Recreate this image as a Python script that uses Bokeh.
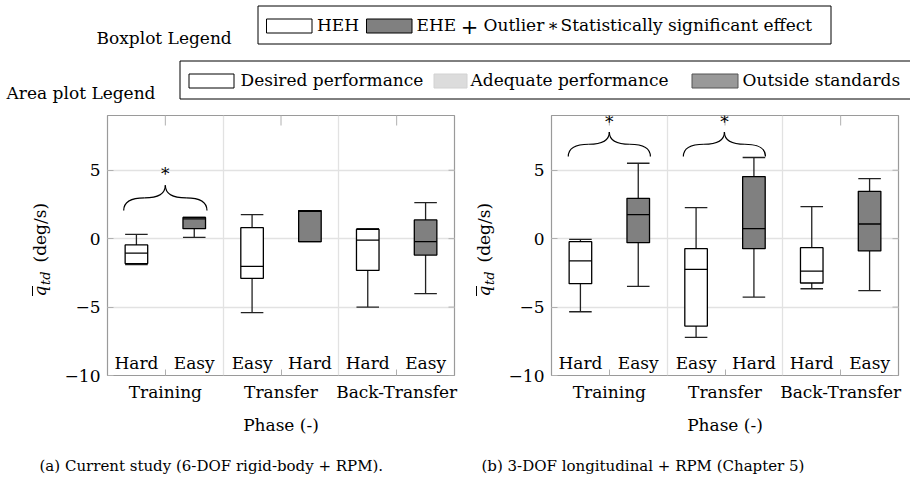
import math
from bokeh.plotting import figure
from bokeh.models import Range1d, FixedTicker
from bokeh.layouts import column, row
from bokeh.embed import file_html
from bokeh.resources import INLINE
from bokeh.core.properties import value

# ---------------- data ----------------
phases = ["Training", "Transfer", "Back-Transfer"]
conditions = ["Hard", "Easy", "Easy", "Hard", "Hard", "Easy"]
positions = [1, 2, 3, 4, 5, 6]
groups = ["HEH", "EHE", "HEH", "EHE", "HEH", "EHE"]
y_ticks = [-10, -5, 0, 5]
y_tick_labels = ["\u221210", "\u22125", "0", "5"]

# (a) Current study (6-DOF rigid-body + RPM)
a_lower = [-1.90, 0.10, -5.41, -0.22, -5.00, -4.02]
a_q1 = [-1.82, 0.73, -2.90, -0.22, -2.32, -1.20]
a_median = [-1.05, 1.45, -2.02, 2.00, -0.10, -0.22]
a_q3 = [-0.46, 1.55, 0.80, 2.05, 0.68, 1.37]
a_upper = [0.32, 1.55, 1.76, 2.05, 0.74, 2.63]
a_sig_left = [0.78]
a_sig_right = [2.22]
a_sig_base = [2.05]
a_sig_peak = [3.90]
a_sig_star = [4.73]

# (b) 3-DOF longitudinal + RPM (Chapter 5)
b_lower = [-5.34, -3.49, -7.22, -4.27, -3.66, -3.80]
b_q1 = [-3.29, -0.29, -6.39, -0.73, -3.24, -0.90]
b_median = [-1.63, 1.76, -2.24, 0.73, -2.37, 1.07]
b_q3 = [-0.22, 2.95, -0.73, 4.54, -0.66, 3.46]
b_upper = [-0.05, 5.51, 2.27, 5.93, 2.34, 4.39]
b_sig_left = [0.79, 2.78]
b_sig_right = [2.21, 4.20]
b_sig_base = [6.00, 6.00]
b_sig_peak = [7.80, 7.80]
b_sig_star = [8.50, 8.50]

box_legend_labels = ["HEH", "EHE", "Outlier", "Statistically significant effect"]
area_legend_labels = ["Desired performance", "Adequate performance", "Outside standards"]
captions = ["(a) Current study (6-DOF rigid-body + RPM).",
            "(b) 3-DOF longitudinal + RPM (Chapter 5)"]

# ---------------- style ----------------
FONT = "DejaVu Serif"
FS = "17px"
group_fill = {"HEH": "white", "EHE": "#808080"}
BOX_W = 0.39
GRID = "#e2e2e2"
TICK = "#b0b0b0"
FRAME = "#9a9a9a"

ROW_TOP = 108
PLOT_H = 347
MB_TOP = 7
MB_BOTTOM = 80
FRAME_TOP = ROW_TOP + MB_TOP
FRAME_BOTTOM = ROW_TOP + PLOT_H - MB_BOTTOM


def base_fig(width, height, xr, yr, **kw):
    f = figure(width=width, height=height, x_range=xr, y_range=yr,
               output_backend="svg", toolbar_location=None, **kw)
    f.background_fill_color = "white"
    f.border_fill_color = "white"
    return f


def make_box_plot(lower, q1, med, q3, upper, sl, sr, sb, sp, ss, width, mbl, mbr):
    x_lo, x_hi = min(positions) - 0.5, max(positions) + 0.5
    p = base_fig(width, PLOT_H, Range1d(x_lo, x_hi), Range1d(-10, 9),
                 min_border_left=mbl, min_border_right=mbr,
                 min_border_top=MB_TOP, min_border_bottom=MB_BOTTOM)
    p.outline_line_color = FRAME
    p.outline_line_width = 1.2

    phase_pos = [(positions[2 * i] + positions[2 * i + 1]) / 2 for i in range(len(phases))]
    bounds = [(positions[2 * i + 1] + positions[2 * i + 2]) / 2 for i in range(len(phases) - 1)]

    # x axis (below)
    xa = p.xaxis[0]
    xa.ticker = FixedTicker(ticks=phase_pos)
    xa.major_label_overrides = {float(k): v for k, v in zip(phase_pos, phases)}
    xa.axis_label = "Phase (-)"
    xa.axis_line_color = None
    xa.major_tick_in = 6
    xa.major_tick_out = 0
    xa.major_tick_line_color = TICK
    xa.minor_tick_line_color = None
    xa.major_label_text_font = FONT
    xa.major_label_text_font_size = FS
    xa.major_label_text_color = "black"
    xa.major_label_standoff = 6
    xa.axis_label_text_font = FONT
    xa.axis_label_text_font_size = FS
    xa.axis_label_text_font_style = "normal"
    xa.axis_label_text_color = "black"
    xa.axis_label_standoff = 10

    # y axis (left)
    ya = p.yaxis[0]
    ya.ticker = FixedTicker(ticks=y_ticks)
    ya.major_label_overrides = {float(k): v for k, v in zip(y_ticks, y_tick_labels)}
    ya.axis_line_color = None
    ya.major_tick_in = 6
    ya.major_tick_out = 0
    ya.major_tick_line_color = TICK
    ya.minor_tick_line_color = None
    ya.major_label_text_font = FONT
    ya.major_label_text_font_size = FS
    ya.major_label_text_color = "black"
    ya.major_label_standoff = 7

    p.ygrid.ticker = FixedTicker(ticks=y_ticks)
    p.ygrid.grid_line_color = GRID
    p.ygrid.grid_line_width = 1.3
    p.xgrid.ticker = FixedTicker(ticks=bounds)
    p.xgrid.grid_line_color = GRID
    p.xgrid.grid_line_width = 1.3

    # mirrored ticks on the top and right edges (half of each dash is clipped by the frame)
    p.scatter(x=phase_pos, y=[9] * len(phase_pos), marker="dash", size=20,
              angle=math.pi / 2, line_color=TICK, line_width=1)
    p.scatter(x=[x_hi] * len(y_ticks), y=y_ticks, marker="dash", size=12,
              line_color=TICK, line_width=1)

    # whiskers
    p.segment(x0=positions, y0=q3, x1=positions, y1=upper, line_color="#222222", line_width=1.3)
    p.segment(x0=positions, y0=q1, x1=positions, y1=lower, line_color="#222222", line_width=1.3)
    xl = [x - BOX_W / 2 for x in positions]
    xrr = [x + BOX_W / 2 for x in positions]
    p.segment(x0=xl, y0=upper, x1=xrr, y1=upper, line_color="#222222", line_width=1.3)
    p.segment(x0=xl, y0=lower, x1=xrr, y1=lower, line_color="#222222", line_width=1.3)
    # boxes
    fills = [group_fill[g] for g in groups]
    p.vbar(x=positions, width=BOX_W, bottom=q1, top=q3, fill_color=fills,
           line_color="black", line_width=1.3)
    # medians
    p.segment(x0=xl, y0=med, x1=xrr, y1=med, line_color="black", line_width=1.3)

    # condition labels inside the frame
    p.text(x=positions, y=[-9.8] * len(positions), text=conditions,
           text_font=value(FONT), text_font_size=FS, text_align="center",
           text_baseline="bottom", text_color="black")

    # significance braces
    for l, r, b, t in zip(sl, sr, sb, sp):
        m = (l + r) / 2
        ym = (b + t) / 2
        p.quadratic(x0=[l, (l + m) / 2, m, (m + r) / 2], y0=[b, ym, t, ym],
                    x1=[(l + m) / 2, m, (m + r) / 2, r], y1=[ym, t, ym, b],
                    cx=[l, m, m, r], cy=[ym, ym, ym, ym],
                    line_color="black", line_width=1.2)
    p.text(x=[(l + r) / 2 for l, r in zip(sl, sr)], y=ss, text=["*"] * len(ss),
           text_font=value(FONT), text_font_size=FS, text_align="center",
           text_baseline="middle", text_color="black")
    return p


def make_ylabel(x0, w, baseline_x):
    # same vertical borders as the box plots, so the frame spans the same screen rows
    f = base_fig(w, PLOT_H, Range1d(x0, x0 + w), Range1d(FRAME_BOTTOM, FRAME_TOP),
                 min_border_left=0, min_border_right=0,
                 min_border_top=MB_TOP, min_border_bottom=MB_BOTTOM,
                 x_axis_location=None, y_axis_location=None)
    f.outline_line_color = None
    f.grid.visible = False
    ax = baseline_x + 2.5
    q0 = 296
    ang = math.pi / 2
    common = dict(angle=ang, text_font=value(FONT), text_align="left",
                  text_baseline="bottom", text_color="black")
    f.text(x=[ax], y=[q0], text=["q"], text_font_size=FS, text_font_style="italic", **common)
    f.segment(x0=[baseline_x - 14.5], y0=[q0 - 0.5], x1=[baseline_x - 14.5], y1=[q0 - 10.5],
              line_color="black", line_width=1)
    f.text(x=[ax + 3.5], y=[q0 - 11.5], text=["td"], text_font_size="13px",
           text_font_style="italic", **common)
    f.text(x=[ax], y=[q0 - 34], text=["(deg/s)"], text_font_size=FS, **common)
    return f


# ---------------- legend strip ----------------
leg = base_fig(910, ROW_TOP, Range1d(0, 910), Range1d(ROW_TOP, 0), min_border=0,
               x_axis_location=None, y_axis_location=None)
leg.outline_line_color = None
leg.grid.visible = False

txt = dict(text_font=value(FONT), text_font_size=FS, text_baseline="bottom",
           text_color="black")
leg.text(x=[96], y=[47.5], text=["Boxplot Legend"], text_align="left", **txt)
leg.quad(left=[257.5], right=[830.5], top=[5.5], bottom=[43.5], fill_color=None,
         line_color="black", line_width=1)
leg.quad(left=[266, 366], right=[311.5, 411.5], top=[18.5, 18.5], bottom=[32.5, 32.5],
         fill_color=["white", "#808080"], line_color="black", line_width=1)
leg.text(x=[316.5, 416], y=[34.2, 34.2], text=box_legend_labels[:2], text_align="left", **txt)
leg.text(x=[469], y=[25.5], text=["+"], text_align="center", text_font=value(FONT),
         text_font_size="21px", text_baseline="middle", text_color="black")
leg.text(x=[483], y=[34.2], text=[box_legend_labels[2]], text_align="left", **txt)
leg.text(x=[547], y=[34.2], text=["\u2217"], text_align="left", **txt)
leg.text(x=[560], y=[34.2], text=[box_legend_labels[3]], text_align="left", **txt)

leg.text(x=[155], y=[102.5], text=["Area plot Legend"], text_align="right", **txt)
leg.quad(left=[179.5], right=[930], top=[60.5], bottom=[98.5], fill_color=None,
         line_color="black", line_width=1)
leg.quad(left=[188.5, 433.5, 691.5], right=[233.5, 466.5, 737.5], top=[73.5] * 3,
         bottom=[87.5] * 3, fill_color=["white", "#dcdcdc", "#999999"],
         line_color=["black", "#d2d2d2", "#555555"], line_width=1)
leg.text(x=[240, 470, 742], y=[89.8] * 3, text=area_legend_labels, text_align="left", **txt)

# ---------------- plots ----------------
pa = make_box_plot(a_lower, a_q1, a_median, a_q3, a_upper,
                   a_sig_left, a_sig_right, a_sig_base, a_sig_peak, a_sig_star,
                   width=410, mbl=47, mbr=16)
pb = make_box_plot(b_lower, b_q1, b_median, b_q3, b_upper,
                   b_sig_left, b_sig_right, b_sig_base, b_sig_peak, b_sig_star,
                   width=406, mbl=47, mbr=12)
yl1 = make_ylabel(0, 60, 46.5)
yl2 = make_ylabel(470, 34, 490.5)

# ---------------- captions ----------------
CAP_TOP = ROW_TOP + PLOT_H
cap = base_fig(910, 479 - CAP_TOP, Range1d(0, 910), Range1d(479, CAP_TOP), min_border=0,
               x_axis_location=None, y_axis_location=None)
cap.outline_line_color = None
cap.grid.visible = False
cap.text(x=[39, 481], y=[474.5, 474.5], text=captions, text_font=value(FONT),
         text_font_size="15px", text_align="left", text_baseline="bottom",
         text_color="black")

layout = column(leg, row(yl1, pa, yl2, pb), cap)
open("out.html", "w").write(file_html(layout, INLINE))
